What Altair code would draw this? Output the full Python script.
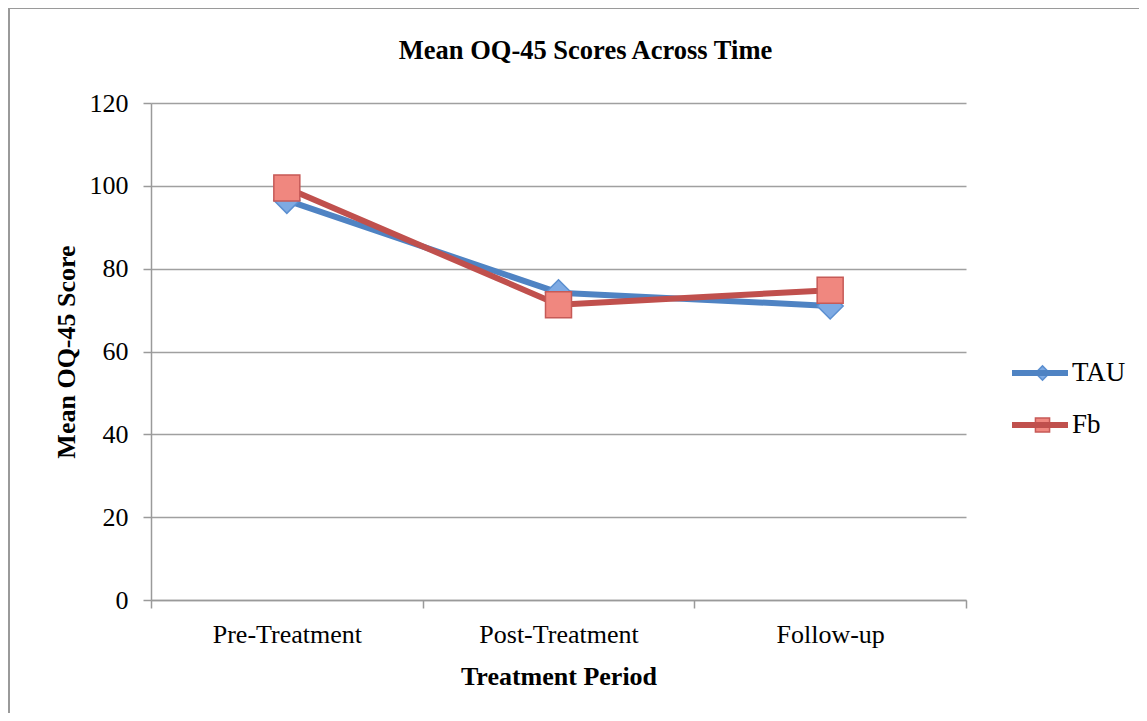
import altair as alt
import pandas as pd

periods = ["Pre-Treatment", "Post-Treatment", "Follow-up"]
series_names = ["TAU", "Fb"]
tau_values = [96.5, 74.2, 71.0]
fb_values = [99.5, 71.3, 74.8]
y_ticks = [0, 20, 40, 60, 80, 100, 120]

rows = []
for s, vals in zip(series_names, [tau_values, fb_values]):
    for p, v in zip(periods, vals):
        rows.append({"period": p, "series": s, "series_b": s, "value": v})
df = pd.DataFrame(rows)

line_colors = ["#4f83c3", "#c0504d"]
marker_fill = ["#7eaae3", "#f0877f"]
marker_stroke = ["#5b8fd0", "#c65a57"]
SERIF = "Liberation Serif"

x_enc = alt.X(
    "period:N",
    sort=periods,
    scale=alt.Scale(type="band", paddingInner=0, paddingOuter=0),
    axis=alt.Axis(
        title="Treatment Period",
        labelAngle=0,
        tickBand="extent",
        tickSize=8,
        labelPadding=34,
        labelBaseline="alphabetic",
        titleBaseline="alphabetic",
        titleY=84,
        grid=False,
    ),
)
y_enc = alt.Y(
    "value:Q",
    scale=alt.Scale(domain=[0, 120], nice=False),
    axis=alt.Axis(
        title="Mean OQ-45 Score",
        values=y_ticks,
        tickSize=8,
        labelPadding=15,
        grid=True,
        titleBaseline="alphabetic",
        titleX=-77,
        titleY=248.5,
    ),
)

line = (
    alt.Chart(df)
    .mark_line(strokeWidth=6, strokeCap="round", strokeJoin="round")
    .encode(
        x=x_enc,
        y=y_enc,
        color=alt.Color(
            "series:N",
            sort=series_names,
            scale=alt.Scale(range=line_colors),
            legend=alt.Legend(
                title=None,
                orient="none",
                legendX=858,
                legendY=255,
                symbolType="stroke",
                symbolSize=3136,
                symbolStrokeWidth=6,
                clipHeight=30,
                rowPadding=22,
                labelExpr="''",
                padding=0,
            ),
        ),
    )
)

pt_legend = alt.Legend(
    title=None,
    orient="none",
    legendX=878,
    legendY=255,
    symbolSize=200,
    symbolStrokeWidth=1.5,
    clipHeight=30,
    rowPadding=22,
    labelOffset=16,
    labelFont=SERIF,
    labelFontSize=27,
    labelColor="black",
    padding=0,
)

points = (
    alt.Chart(df)
    .mark_point(filled=True, size=676, opacity=1, strokeWidth=1.5)
    .encode(
        x=x_enc,
        y=y_enc,
        fill=alt.Fill("series_b:N", scale=alt.Scale(domain=series_names, range=marker_fill), legend=pt_legend),
        stroke=alt.Stroke("series_b:N", scale=alt.Scale(domain=series_names, range=marker_stroke), legend=pt_legend),
        shape=alt.Shape("series_b:N", scale=alt.Scale(domain=series_names, range=["diamond", "square"]), legend=pt_legend),
    )
)

border_df = pd.DataFrame({"k": [0]})
border_left = alt.Chart(border_df).mark_rule(color="#9a9a9a", strokeWidth=2).encode(
    x=alt.value(-142), y=alt.value(-95), y2=alt.value(640)
)
border_top = alt.Chart(border_df).mark_rule(color="#9a9a9a", strokeWidth=2).encode(
    x=alt.value(-142), x2=alt.value(1100), y=alt.value(-95)
)

chart = (
    alt.layer(border_left, border_top, line, points)
    .resolve_scale(color="independent")
    .properties(
        width=815,
        height=497,
        autosize=alt.AutoSizeParams(type="none"),
        padding={"left": 143, "top": 95, "right": 173, "bottom": 113},
        title=alt.TitleParams(
            "Mean OQ-45 Scores Across Time",
            font=SERIF,
            fontSize=26.5,
            fontWeight="bold",
            color="black",
            anchor="middle",
            frame="group",
            baseline="alphabetic",
            dx=27,
            offset=-78,
        ),
    )
    .configure_view(stroke=None)
    .configure_axis(
        labelFont=SERIF,
        labelFontSize=26,
        labelColor="black",
        titleFont=SERIF,
        titleFontSize=26,
        titleFontWeight="bold",
        titleColor="black",
        domainColor="#9a9a9a",
        domainWidth=1.5,
        tickColor="#9a9a9a",
        tickWidth=1.5,
        gridColor="#a0a0a0",
        gridWidth=1.5,
    )
)

chart.save("out.html", embed_options={"renderer": "svg", "actions": False})
